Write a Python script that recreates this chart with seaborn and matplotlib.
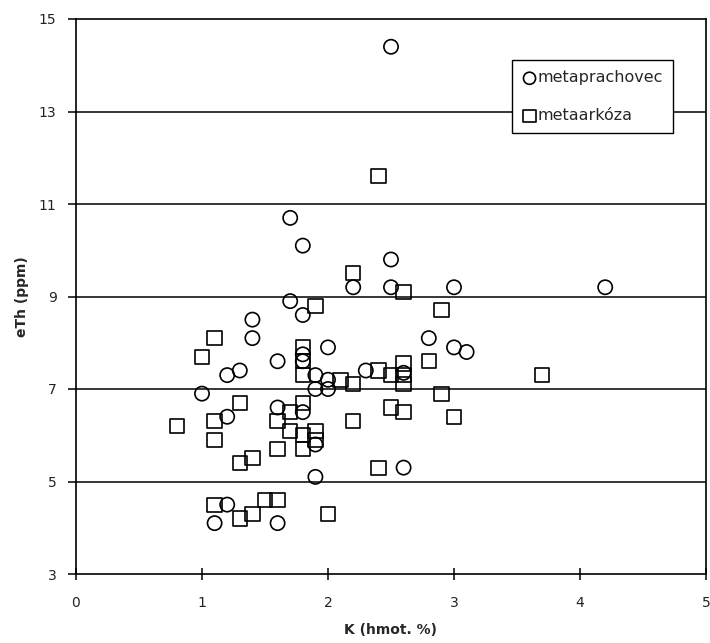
import matplotlib
matplotlib.use("Agg")
import matplotlib.pyplot as plt
import seaborn as sns
import pandas as pd

# metaprachovec (circles)
K_prach = [2.5, 1.7, 1.8, 2.5, 2.2, 2.5, 3.0, 4.2, 1.7, 1.8, 1.4, 1.4, 2.8, 3.0, 3.1, 1.6,
           2.0, 1.8, 1.8, 1.3, 1.2, 1.9, 2.0, 2.3, 2.6, 1.0, 1.9, 2.0, 1.6, 1.8, 1.2, 1.9,
           1.9, 2.6, 1.2, 1.1, 1.6]
eTh_prach = [14.4, 10.7, 10.1, 9.8, 9.2, 9.2, 9.2, 9.2, 8.9, 8.6, 8.5, 8.1, 8.1, 7.9, 7.8, 7.6,
             7.9, 7.75, 7.6, 7.4, 7.3, 7.3, 7.2, 7.4, 7.35, 6.9, 7.0, 7.0, 6.6, 6.5, 6.4, 5.8,
             5.1, 5.3, 4.5, 4.1, 4.1]

# metaarkóza (squares)
K_ark = [2.4, 2.2, 2.6, 1.9, 2.9, 1.1, 1.0, 1.8, 1.8, 1.8, 2.1, 2.2, 2.4, 2.5, 2.6, 2.6,
         2.6, 2.8, 3.7, 2.9, 1.3, 1.8, 1.7, 1.1, 1.6, 2.2, 2.5, 2.6, 3.0, 0.8, 1.7, 1.8,
         1.9, 1.9, 1.8, 1.1, 1.6, 1.3, 1.4, 2.4, 1.1, 1.3, 1.4, 1.5, 1.6, 2.0]
eTh_ark = [11.6, 9.5, 9.1, 8.8, 8.7, 8.1, 7.7, 7.9, 7.6, 7.3, 7.2, 7.1, 7.4, 7.3, 7.55, 7.3,
           7.1, 7.6, 7.3, 6.9, 6.7, 6.7, 6.5, 6.3, 6.3, 6.3, 6.6, 6.5, 6.4, 6.2, 6.1, 6.0,
           6.1, 5.9, 5.7, 5.9, 5.7, 5.4, 5.5, 5.3, 4.5, 4.2, 4.3, 4.6, 4.6, 4.3]

series_names = ["metaprachovec", "metaarkóza"]
x_ticks = [0, 1, 2, 3, 4, 5]
y_ticks = [3, 5, 7, 9, 11, 13, 15]
x_label = "K (hmot. %)"
y_label = "eTh (ppm)"

df_p = pd.DataFrame({"K": K_prach, "eTh": eTh_prach})
df_a = pd.DataFrame({"K": K_ark, "eTh": eTh_ark})

sns.set_theme(style="white")
plt.rcParams["font.family"] = ["DejaVu Sans"]

fig = plt.figure(figsize=(7.10, 6.43), dpi=100)
ax = fig.add_axes([76 / 710, 1 - 574 / 643, 630 / 710, 555 / 643])

for yv in y_ticks[1:-1]:
    ax.axhline(yv, color="black", linewidth=1.1, zorder=1)

sns.scatterplot(data=df_p, x="K", y="eTh", marker="o", s=105, facecolors="none",
                edgecolor="black", color="black", linewidth=1.2, label=series_names[0],
                ax=ax, zorder=3)
sns.scatterplot(data=df_a, x="K", y="eTh", marker="s", s=105, facecolors="none",
                edgecolor="black", color="black", linewidth=1.2, label=series_names[1],
                ax=ax, zorder=3)

ax.set_xlim(0, 5)
ax.set_ylim(3, 15)
ax.set_xticks(x_ticks)
ax.set_yticks(y_ticks)
ax.tick_params(axis="x", direction="inout", length=9, width=1.1, color="black",
               labelsize=10, labelcolor="#222222", pad=11, bottom=True)
ax.tick_params(axis="y", direction="out", length=6, width=1.1, color="black",
               labelsize=10, labelcolor="#222222", pad=8, left=True)
for sp in ax.spines.values():
    sp.set_color("black")
    sp.set_linewidth(1.2)

ax.set_xlabel(x_label, fontsize=10, fontweight="bold", labelpad=10)
ax.set_ylabel(y_label, fontsize=10, fontweight="bold", labelpad=7)

leg = ax.legend(loc="upper left", bbox_to_anchor=(0.692, 0.926), frameon=True,
                fancybox=False, edgecolor="black", framealpha=1, fontsize=11.5,
                handletextpad=0.05, handlelength=0.9, borderpad=0.65, labelspacing=1.4,
                borderaxespad=0, markerscale=0.85)
leg.get_frame().set_linewidth(1.0)
leg.set_zorder(5)

fig.savefig("out.png", dpi=100, facecolor="white")
